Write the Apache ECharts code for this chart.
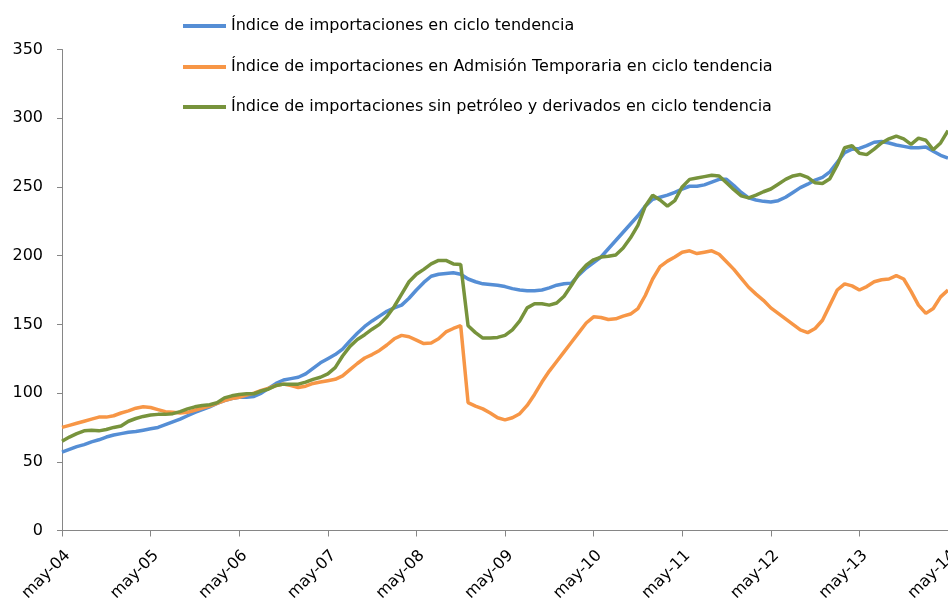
<!DOCTYPE html>
<html>
<head>
<meta charset="utf-8">
<script src="https://cdn.jsdelivr.net/npm/echarts@6/dist/echarts.min.js"></script>
<style>
html,body{margin:0;padding:0;background:#fff;}
#chart{width:948px;height:601px;}
</style>
</head>
<body>
<div id="chart"></div>
<script>
// Month abbreviations (Spanish) and range: may-04 .. may-14 (monthly)
const monthNames = ['ene','feb','mar','abr','may','jun','jul','ago','sep','oct','nov','dic'];
const startYear = 2004, startMonth = 4, nPoints = 121;
const categories = [];
for (let i = 0; i < nPoints; i++) {
  const m = (startMonth + i) % 12;
  const y = startYear + Math.floor((startMonth + i) / 12);
  categories.push(monthNames[m] + '-' + String(y % 100).padStart(2, '0'));
}

const seriesNames = [
  'Índice de importaciones en ciclo tendencia',
  'Índice de importaciones en Admisión Temporaria en ciclo tendencia',
  'Índice de importaciones sin petróleo y derivados en ciclo tendencia'
];

const importaciones = [
  57,59,61,62.5,64.5,66,68,69.5,70.5,71.5,72,73,
  74,75,77,79,81,83.5,86,88,90,92.5,94.5,96,
  97,97,97.5,100,103.5,107,109.5,110.5,111.5,114,118,122,
  125,128,132,138,143.5,148.5,152.5,156,159.5,162,164,169,
  175,180.5,185,186.5,187,187.5,186.5,183,181,179.5,179,178.5,
  177.5,176,175,174.5,174.5,175,176.5,178.5,179.5,180,186,191,
  195,199,205,211,217,223,229,236,241,242.5,244,246,
  248.5,250.5,250.5,251.5,253.5,255.5,255.5,251,246,242,240.5,239.5,
  239,240,242.5,246,249.5,252,255,257,261,268,275,277.5,
  278,280,282.5,283,282,280.5,279.5,278.5,278.5,279,276,273,
  271
];

const admisionTemporaria = [
  75,76.5,78,79.5,81,82.5,82.5,83.5,85.5,87,89,90,
  89.5,88,86.5,86,85.5,86,87.5,89,90.5,92.5,94.5,96,
  97,98.5,100,102,103.5,105.5,106.5,105.5,104,105,107,108,
  109,110,112.5,117,121.5,125.5,128,131,135,139.5,142,141,
  138.5,136,136.5,139.5,144.5,147,149,93,90.5,88.5,85.5,82,
  80.5,82,85,91,99,108,116,123,130,137,144,151,
  155.5,155,153.5,154,156,157.5,161.5,171,183,192,196,199,
  202.5,203.5,201.5,202.5,203.5,201,195.5,190,183.5,177,172,167.5,
  162,158,154,150,146,144,147,153,164,175,179.5,178,
  175,177.5,181,182.5,183,185.5,183,174,164,158,161.5,170,
  175
];

const sinPetroleo = [
  65,68,70.5,72.5,73,72.5,73.5,75,76,79.5,81.5,83,
  84,84.5,84.5,85,86.5,88.5,90,91,91.5,93,96.5,98,
  99,99.5,99.5,101.5,103,105.5,106.5,106.5,106.5,108,110,111.5,
  114,118.5,127,134,139,142.5,146.5,150,155.5,163,172,181,
  186.5,190,194,196.5,196.5,194,193.5,149,144,140,140,140.5,
  142,146,152.5,162,165,165,164,165.5,170.5,178.5,187,193,
  197,199,199.5,200.5,205.5,213,222,236,244,240.5,236,240,
  250,255.5,256.5,257.5,258.5,258,253,248,243.5,242,244,246.5,
  248.5,252,255.5,258,259,257,253,252.5,256,266,278.5,280,
  274.5,273.5,277.5,282,285,287,285,281,285.5,284,277,282,
  291
];

const yTicks = { min: 0, max: 350, interval: 50 };
const colors = ['#558ED5', '#F79646', '#77933C'];
const FONT = 'DejaVu Sans';

const chart = echarts.init(document.getElementById('chart'), null, { renderer: 'canvas' });

const legendTops = [18, 59, 99];
const legends = seriesNames.map((n, k) => ({
  show: true,
  data: [n],
  left: 183,
  top: legendTops[k],
  padding: 0,
  orient: 'vertical',
  icon: 'rect',
  itemWidth: 43,
  itemHeight: 4,
  textStyle: { fontFamily: FONT, fontSize: 16, color: '#000' }
}));

const data = [importaciones, admisionTemporaria, sinPetroleo];

chart.setOption({
  animation: false,
  backgroundColor: '#fff',
  color: colors,
  legend: legends,
  grid: { left: 62, right: 0, top: 49.5, bottom: 70.5, containLabel: false, outerBoundsMode: 'none' },
  xAxis: {
    type: 'category',
    data: categories,
    boundaryGap: false,
    axisLine: { show: true, lineStyle: { color: '#868686', width: 1 } },
    axisTick: { show: true, length: 6, interval: (i) => i % 12 === 0, lineStyle: { color: '#868686' } },
    axisLabel: {
      interval: (i) => i % 12 === 0,
      rotate: 45,
      margin: 17,
      verticalAlign: 'top',
      fontFamily: FONT,
      fontSize: 16,
      color: '#000'
    },
    splitLine: { show: false }
  },
  yAxis: {
    type: 'value',
    min: yTicks.min,
    max: yTicks.max,
    interval: yTicks.interval,
    axisLine: { show: true, lineStyle: { color: '#868686', width: 1 } },
    axisTick: { show: true, length: 5, lineStyle: { color: '#868686' } },
    axisLabel: { margin: 19, fontFamily: FONT, fontSize: 16, color: '#000', padding: [0, 0, 8, 0] },
    splitLine: { show: false }
  },
  series: seriesNames.map((n, k) => ({
    name: n,
    type: 'line',
    data: data[k],
    showSymbol: false,
    symbol: 'none',
    smooth: false,
    lineStyle: { width: 3.5, color: colors[k] },
    itemStyle: { color: colors[k] },
    z: 2 + k
  }))
});
</script>
</body>
</html>
